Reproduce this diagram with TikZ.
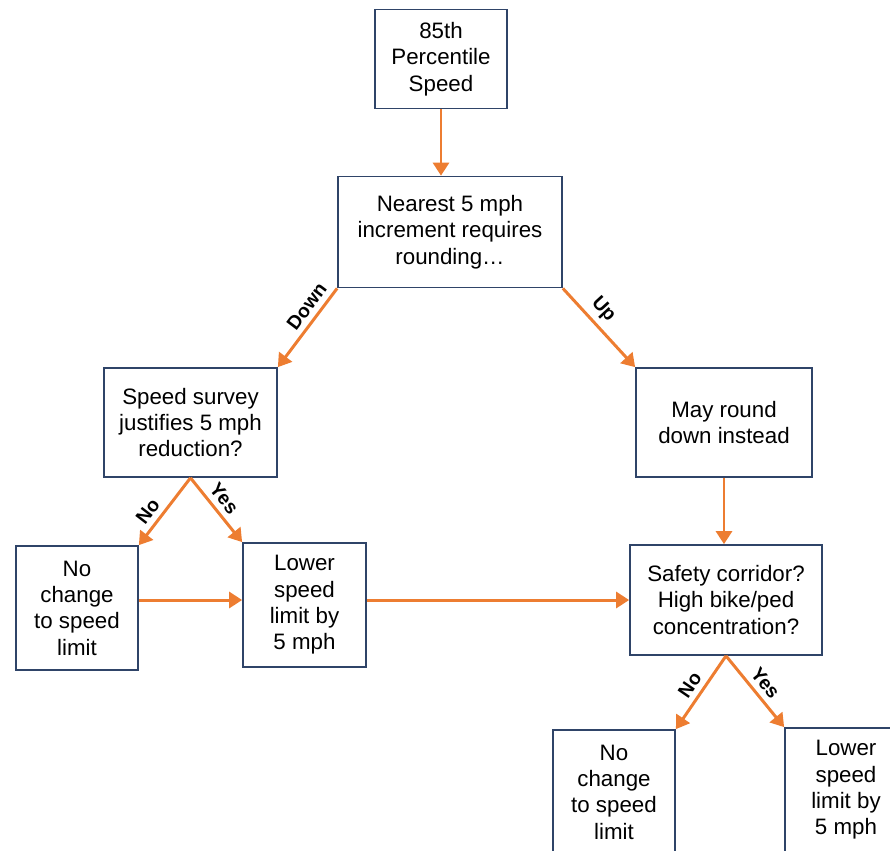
\documentclass[tikz,border=0pt]{standalone}
\usepackage{fontspec}
\setmainfont{Liberation Sans}
\usepackage{tikz}
\usetikzlibrary{arrows.meta}
\definecolor{boxline}{HTML}{2F4468}
\definecolor{arrorange}{HTML}{ED7D31}
\tikzset{
	box/.style={draw=boxline, line width=1pt, align=center, inner sep=2pt,
		font=\fontsize{12.7}{15}\selectfont},
	flow/.style={draw=arrorange, line width=1.7pt, -{Triangle[width=0.32cm,length=0.26cm]}},
	lbl/.style={font=\fontsize{11}{12}\selectfont\bfseries, sloped, above, inner sep=3pt}
}
\begin{document}
\begin{tikzpicture}[x=0.02cm, y=-0.02cm]
			%%%%% START %%%%%
			
			\useasboundingbox (0, 0) rectangle (890, 850);
			\clip (0, 0) rectangle (890, 850);
			
			\node[box, minimum width=2.64cm, minimum height=1.98cm] (pct) at (441, 59) {85th\\Percentile\\Speed};
			\node[box, minimum width=4.48cm, minimum height=2.22cm] (rounding) at (450, 232) {Nearest 5 mph\\increment requires\\rounding\dots};
			
			\node[box, minimum width=3.46cm, minimum height=2.18cm] (survey) at (190.5, 422.5) {Speed survey\\justifies 5 mph\\reduction?};
			\node[box, minimum width=3.52cm, minimum height=2.18cm] (maydown) at (724, 422.5) {May round\\down instead};
			
			\node[box, minimum width=2.44cm, minimum height=2.48cm] (nochangeA) at (77, 608) {No\\change\\to speed\\limit};
			\node[box, minimum width=2.46cm, minimum height=2.48cm] (lowerA) at (304.5, 605) {Lower\\speed\\limit by\\5 mph};
			\node[box, minimum width=3.84cm, minimum height=2.2cm] (safety) at (726, 600) {Safety corridor?\\High bike/ped\\concentration?};
			
			\node[box, minimum width=2.44cm, minimum height=2.48cm] (nochangeB) at (614, 792) {No\\change\\to speed\\limit};
			\node[box, minimum width=2.44cm, minimum height=2.48cm] (lowerB) at (846, 790) {Lower\\speed\\limit by\\5 mph};
			
			\draw[flow] (pct.south) -- (pct.south |- rounding.north);
			\draw[flow] (rounding.south west) -- node[lbl, pos=0.33] {Down} (survey.north east);
			\draw[flow] (rounding.south east) -- node[lbl, pos=0.4] {Up} (maydown.north west);
			
			\draw[flow] (survey.south) -- node[lbl, pos=0.62] {No} (nochangeA.north east);
			\draw[flow] (survey.south) -- node[lbl, pos=0.45] {Yes} (lowerA.north west);
			\draw[flow] (nochangeA.east |- 0, 600) -- (lowerA.west |- 0, 600);
			\draw[flow] (lowerA.east |- 0, 600) -- (safety.west);
			\draw[flow] (maydown.south) -- (maydown.south |- safety.north);
			
			\draw[flow] (safety.south) -- node[lbl, pos=0.5] {No} (nochangeB.north east);
			\draw[flow] (safety.south) -- node[lbl, pos=0.5] {Yes} (lowerB.north west);
			
			%%%%% END %%%%%
		\end{tikzpicture}
\end{document}
